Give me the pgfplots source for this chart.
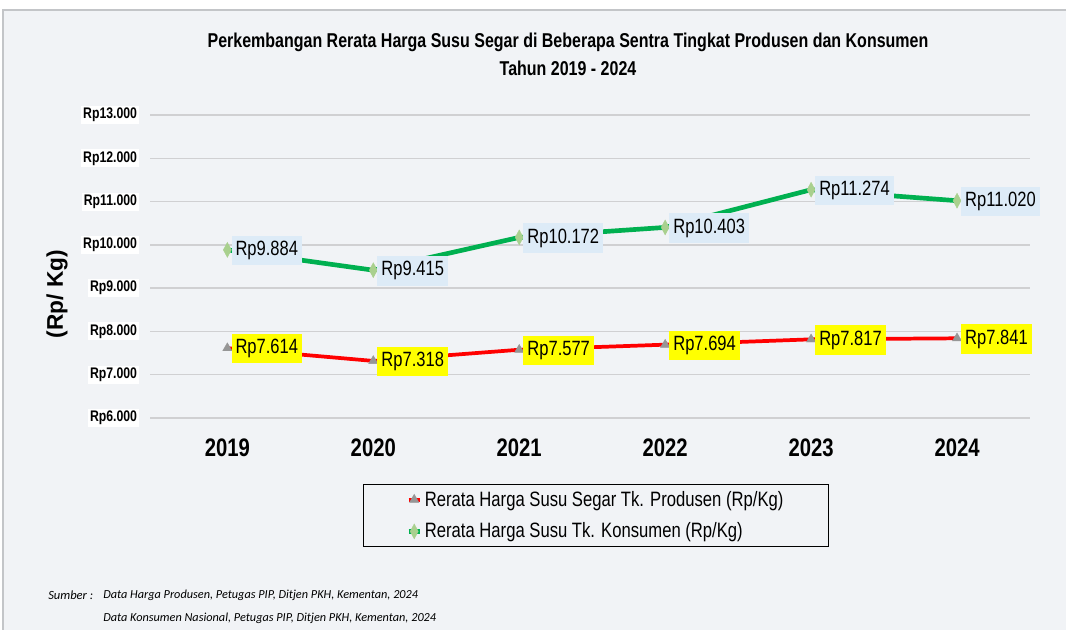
\documentclass[border=0pt]{standalone}
\usepackage{fontspec}
\setmainfont{Liberation Sans}[FakeStretch=0.8]
\newfontfamily\widefont{Liberation Sans}
\newfontfamily\footfont{Carlito}
\usepackage{pgfplots}
\pgfplotsset{compat=1.18}
\usepackage{pgfplotstable}
\definecolor{bgc}{RGB}{241,243,246}
\definecolor{framec}{RGB}{195,197,200}
\definecolor{gridc}{RGB}{208,208,210}
\definecolor{grn}{RGB}{0,176,80}
\definecolor{grnmark}{RGB}{169,208,142}
\definecolor{lblue}{RGB}{221,235,247}
\definecolor{yel}{RGB}{255,255,0}
\definecolor{grymark}{RGB}{150,150,150}
\pgfplotstableread{
x y lab
0 7614 Rp7.614
1 7318 Rp7.318
2 7577 Rp7.577
3 7694 Rp7.694
4 7817 Rp7.817
5 7841 Rp7.841
}\produsen
\pgfplotstableread{
x y lab
0 9884 Rp9.884
1 9415 Rp9.415
2 10172 Rp10.172
3 10403 Rp10.403
4 11274 Rp11.274
5 11020 Rp11.020
}\konsumen
\begin{document}
\begin{tikzpicture}
\useasboundingbox (0,0) rectangle (799.5pt,472.5pt);
\fill[white] (0,0) rectangle (799.5pt,472.5pt);
\filldraw[fill=bgc, draw=framec, line width=1pt] (2.25pt,-2pt) rectangle (802pt,465pt);
\node[align=center, font=\bfseries\fontsize{15}{21}\selectfont] at (426pt,432pt)
  {Perkembangan Rerata Harga Susu Segar di Beberapa Sentra Tingkat Produsen dan Konsumen\\Tahun 2019 - 2024};
\node[rotate=90, font=\widefont\bfseries\fontsize{17}{19}\selectfont] at (42.75pt,252pt) {(Rp/ Kg)};
\begin{axis}[
  at={(112.5pt,159pt)}, anchor=south west,
  scale only axis, width=660pt, height=227.25pt,
  xmin=-0.53, xmax=5.5, ymin=6000, ymax=13000,
  scaled y ticks=false,
  axis line style={draw=none},
  major tick length=0pt,
  xtick={0,1,2,3,4,5},
  xticklabels={2019,2020,2021,2022,2023,2024},
  ytick={6000,7000,8000,9000,10000,11000,12000,13000},
  yticklabels={Rp6.000,Rp7.000,Rp8.000,Rp9.000,Rp10.000,Rp11.000,Rp12.000,Rp13.000},
  ymajorgrids, grid style={gridc, line width=1.1pt},
  x tick label style={font=\bfseries\fontsize{19}{21}\selectfont, yshift=-12pt},
  y tick label style={font=\bfseries\fontsize{11.5}{13}\selectfont, fill=white, inner sep=1.5pt, xshift=-8pt},
  clip=false,
  point meta=explicit symbolic,
  nodes near coords,
  legend style={at={(0.507,-0.218)}, anchor=north, draw=black, fill=bgc,
    font=\fontsize{15.6}{18}\selectfont, inner xsep=32pt, inner ysep=3pt,
    row sep=7pt, line width=0.6pt},
  legend cell align=left,
  legend image code/.code={\draw[mark repeat=2,mark phase=2] plot coordinates {(0cm,0cm) (0.15cm,0cm) (0.3cm,0cm)};},
]
\addplot[red, line width=2.8pt, mark=triangle*, mark size=4pt,
  mark options={fill=grymark, draw=grymark, line width=0.3pt},
  nodes near coords style={anchor=west, xshift=3pt, yshift=-0.5pt, fill=yel, text=black, inner xsep=3pt, inner ysep=4pt,
    font=\fontsize{15.5}{17}\selectfont}]
  table[x=x, y=y, meta=lab] {\produsen};
\addlegendentry{Rerata Harga Susu Segar Tk. Produsen (Rp/Kg)}
\addplot[grn, line width=3.5pt, mark=diamond*, mark size=4pt,
  mark options={fill=grnmark, draw=grnmark, line width=0.3pt, yscale=1.4},
  nodes near coords style={anchor=west, xshift=3pt, yshift=-0.5pt, fill=lblue, text=black, inner xsep=3pt, inner ysep=4pt,
    font=\fontsize{15.5}{17}\selectfont}]
  table[x=x, y=y, meta=lab] {\konsumen};
\addlegendentry{Rerata Harga Susu Tk. Konsumen (Rp/Kg)}
\end{axis}
\node[anchor=west, font=\footfont\itshape\fontsize{9.4}{10}\selectfont, inner sep=0pt] at (36pt,26.25pt) {Sumber :};
\node[anchor=west, font=\footfont\itshape\fontsize{9.2}{10}\selectfont, inner sep=0pt] at (77.25pt,26.25pt) {Data Harga Produsen, Petugas PIP, Ditjen PKH, Kementan, 2024};
\node[anchor=west, font=\footfont\itshape\fontsize{9.2}{10}\selectfont, inner sep=0pt] at (77.25pt,9pt) {Data Konsumen Nasional, Petugas PIP, Ditjen PKH, Kementan, 2024};
\end{tikzpicture}
\end{document}
